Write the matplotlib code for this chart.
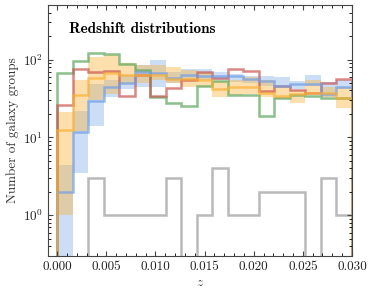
import numpy as np
import matplotlib
matplotlib.use("Agg")
import matplotlib.pyplot as plt

# 19 bins between z = 0 and z = 0.030
z_edges = np.linspace(0.0, 0.030, 20)

# step histograms (counts per bin)
green = [68, 95, 123, 117, 87, 74, 33, 28, 25, 46, 53, 35, 35, 19, 32, 35, 34, 32, 32]
red = [26, 75, 69, 71, 34, 63, 34, 43, 54, 70, 58, 76, 71, 39, 46, 40, 37, 50, 56]
blue = [2.0, 11.7, 29, 44, 50, 69, 68, 58, 64, 61, 61, 61, 57, 53, 46, 49, 48, 36, 44]
orange = [12.3, 35, 58, 68, 64, 64, 63, 57, 57, 54, 42, 44, 44, 37, 34, 36, 37, 37, 32]
gray = [0, 0, 3, 1, 1, 1, 1, 3, 0, 1, 4, 1, 1, 2, 2, 2, 0, 3, 1]

# shaded ranges
blue_lo = [0.1, 3.5, 14, 33, 42, 44, 45, 50, 55, 55, 54, 52, 50, 46, 44, 42, 46, 33, 42]
blue_hi = [4.4, 22, 48, 54, 63, 85, 98, 70, 75, 75, 69, 66, 62, 62, 59, 53, 63, 51, 54]
orange_lo = [1.0, 12, 30, 36, 49, 50, 55, 50, 44, 44, 33, 35, 36, 33, 31, 28, 36, 33, 24]
orange_hi = [21, 54, 108, 113, 90, 85, 85, 80, 73, 70, 53, 54, 59, 55, 44, 40, 55, 45, 45]

plt.rcParams.update({
    "font.family": "serif",
    "font.serif": ["cmr10", "DejaVu Serif"],
    "mathtext.fontset": "cm",
    "axes.formatter.use_mathtext": True,
    "axes.unicode_minus": False,
    "font.size": 9.5,
    "xtick.direction": "in",
    "ytick.direction": "in",
    "xtick.top": True,
    "ytick.right": True,
    "xtick.minor.visible": True,
    "axes.edgecolor": "#444444",
    "axes.linewidth": 0.8,
})

C_BLUE = "#6f9ee8"
C_ORANGE = "#fbb034"
C_GREEN = "#5aa55a"
C_RED = "#c9564f"
C_GRAY = "#a8a8a8"

fig = plt.figure(figsize=(3.74, 2.99), dpi=100)
ax = fig.add_axes([0.128, 0.144, 0.813, 0.839])
ax.set_yscale("log")

ax.stairs(blue_hi, z_edges, baseline=blue_lo, fill=True, color=C_BLUE, alpha=0.35, lw=0)
ax.stairs(orange_hi, z_edges, baseline=orange_lo, fill=True, color=C_ORANGE, alpha=0.4, lw=0)

ax.stairs(gray, z_edges, baseline=0, color=C_GRAY, lw=1.8, alpha=0.8)
ax.stairs(green, z_edges, baseline=0, color=C_GREEN, lw=1.8, alpha=0.7)
ax.stairs(red, z_edges, baseline=0, color=C_RED, lw=1.8, alpha=0.7)
ax.stairs(blue, z_edges, baseline=0, color=C_BLUE, lw=1.8, alpha=0.7)
ax.stairs(orange, z_edges, baseline=0, color=C_ORANGE, lw=1.8, alpha=0.7)

ax.set_xlim(-0.00095, 0.030)
ax.set_ylim(0.3, 500)
ax.set_xticks(np.arange(0, 0.0301, 0.005))
ax.xaxis.set_minor_locator(matplotlib.ticker.MultipleLocator(0.001))
ax.xaxis.set_major_formatter(matplotlib.ticker.FormatStrFormatter("%.3f"))
ax.tick_params(labelsize=9.5, colors="#444444", labelcolor="#222222")

ax.set_xlabel("$z$", fontsize=9.5, color="#333333", labelpad=3)
ax.set_ylabel("Number of galaxy groups", fontsize=9.5, color="#333333", labelpad=3)
ax.text(0.07, 0.905, "Redshift distributions", transform=ax.transAxes,
        fontsize=11, family=["cmb10", "DejaVu Serif"], ha="left", va="center")

fig.savefig("out.png", dpi=100)
